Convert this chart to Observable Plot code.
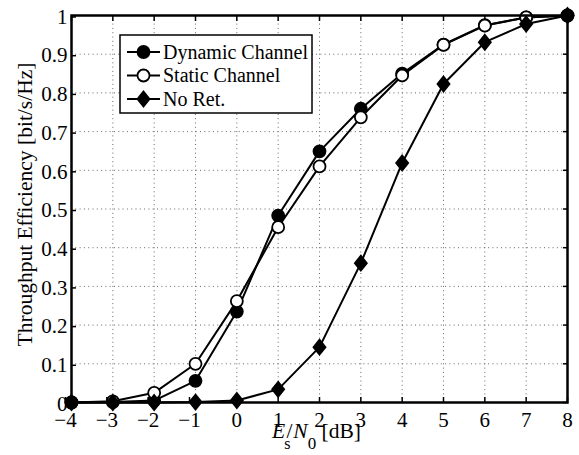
<!DOCTYPE html>
<html>
<head>
<meta charset="utf-8">
<script src="https://cdn.jsdelivr.net/npm/d3@7"></script>
<script src="https://cdn.jsdelivr.net/npm/@observablehq/plot@0.6"></script>
<style>
  body { margin: 0; background: #fff; }
  #chart svg { display: block; }
  #chart svg text { font-family: 'Liberation Serif', 'Times New Roman', serif; }
</style>
</head>
<body>
<div id="chart"></div>
<script>
// Throughput efficiency versus Es/N0 for three retransmission schemes
const snr = [-4, -3, -2, -1, 0, 1, 2, 3, 4, 5, 6, 7, 8];
const dynamicChannel = [0, 0.001, 0.005, 0.056, 0.235, 0.483, 0.649, 0.759, 0.85, 0.925, 0.975, 0.995, 1.0];
const staticChannel = [0, 0.003, 0.025, 0.1, 0.262, 0.453, 0.61, 0.737, 0.845, 0.924, 0.974, 0.995, 1.0];
const noRetransmission = [0, 0, 0, 0.001, 0.005, 0.034, 0.143, 0.36, 0.619, 0.823, 0.931, 0.978, 1.0];

const seriesNames = ["Dynamic Channel", "Static Channel", "No Ret."];
const xTicks = [-4, -3, -2, -1, 0, 1, 2, 3, 4, 5, 6, 7, 8];
const xTickLabels = ["\u22124", "\u22123", "\u22122", "\u22121", "0", "1", "2", "3", "4", "5", "6", "7", "8"];
const yTicks = [0, 0.1, 0.2, 0.3, 0.4, 0.5, 0.6, 0.7, 0.8, 0.9, 1];
const yTickLabels = ["0", "0.1", "0.2", "0.3", "0.4", "0.5", "0.6", "0.7", "0.8", "0.9", "1"];

const W = 579, H = 455;
const M = {top: 15, right: 12, bottom: 53, left: 71};
const FONT = "'Liberation Serif', 'Times New Roman', serif";
const FS_TICK = 21;
const FS_LABEL = 21.5;
const FS_LEGEND = 20;

// Rhombus marker, a little taller than wide
const rhombus = {
  draw(ctx, size) {
    const r = Math.sqrt(size / Math.PI);
    const w = r * 1.0, h = r * 1.25;
    ctx.moveTo(0, -h); ctx.lineTo(w, 0); ctx.lineTo(0, h); ctx.lineTo(-w, 0); ctx.closePath();
  }
};

const series = [
  {name: seriesNames[0], values: dynamicChannel, symbol: "circle", fill: "black"},
  {name: seriesNames[1], values: staticChannel, symbol: "circle", fill: "white"},
  {name: seriesNames[2], values: noRetransmission, symbol: rhombus, fill: "black"}
];

const gridStyle = {stroke: "#666", strokeOpacity: 1, strokeWidth: 1, strokeDasharray: "1,3.3"};

const seriesMarks = series.flatMap(s => {
  const data = snr.map((x, i) => ({x, y: s.values[i]}));
  return [
    Plot.line(data, {x: "x", y: "y", stroke: "black", strokeWidth: 2}),
    Plot.dot(data, {x: "x", y: "y", r: 6, symbol: s.symbol, fill: s.fill, stroke: "black", strokeWidth: 1.8})
  ];
});

// Negative tick labels carry a wide minus sign and sit a little to the left
const xLabelOf = d => xTickLabels[xTicks.indexOf(d)];
const negTicks = xTicks.filter(d => d < 0);
const posTicks = xTicks.filter(d => d >= 0);

const chart = Plot.plot({
  width: W,
  height: H,
  marginTop: M.top,
  marginRight: M.right,
  marginBottom: M.bottom,
  marginLeft: M.left,
  style: {fontFamily: FONT, fontSize: FS_TICK + "px", background: "white", color: "black"},
  x: {domain: [-4, 8], label: null},
  y: {domain: [0, 1], label: null},
  marks: [
    Plot.gridX(xTicks, gridStyle),
    Plot.gridY(yTicks, gridStyle),
    Plot.axisX(negTicks, {anchor: "bottom", tickSize: -5, tickPadding: 15, strokeWidth: 1.5, dx: -6,
      tickFormat: xLabelOf, fontSize: FS_TICK, label: null}),
    Plot.axisX(posTicks, {anchor: "bottom", tickSize: -5, tickPadding: 15, strokeWidth: 1.5,
      tickFormat: xLabelOf, fontSize: FS_TICK, label: null}),
    Plot.axisX(xTicks, {anchor: "top", tickSize: -5, strokeWidth: 1.5, tickFormat: () => "", label: null}),
    Plot.axisY(yTicks, {anchor: "left", tickSize: -5, tickPadding: 9, strokeWidth: 1.5, dy: 1.5,
      tickFormat: (d, i) => yTickLabels[i], fontSize: FS_TICK, label: null}),
    Plot.axisY(yTicks, {anchor: "right", tickSize: -5, strokeWidth: 1.5, tickFormat: () => "", label: null}),
    ...seriesMarks,
    Plot.frame({stroke: "black", strokeWidth: 2.5})
  ]
});

document.getElementById("chart").appendChild(chart);

// Axis titles and legend drawn into the same SVG
const svg = d3.select(chart);
const xs = chart.scale("x"), ys = chart.scale("y");
const cx = (xs.range[0] + xs.range[1]) / 2;
const cy = (ys.range[0] + ys.range[1]) / 2;

const xTitle = svg.append("text")
  .attr("x", cx - 47).attr("y", 438)
  .style("text-anchor", "start")
  .style("font-family", FONT).style("font-size", FS_LABEL + "px").attr("fill", "black");
xTitle.append("tspan").style("font-style", "italic").text("E");
xTitle.append("tspan").style("font-size", "16px").attr("dy", 11).attr("dx", -1).text("s");
xTitle.append("tspan").attr("dy", -11).attr("dx", -4).text("/");
xTitle.append("tspan").style("font-style", "italic").attr("dx", 1).text("N");
xTitle.append("tspan").style("font-size", "17px").attr("dy", 11).text("0");
xTitle.append("tspan").attr("dy", -11).text(" [dB]");

svg.append("text")
  .attr("transform", `translate(31.5,${cy - 4}) rotate(-90)`)
  .style("text-anchor", "middle")
  .style("font-family", FONT).style("font-size", FS_LABEL + "px").attr("fill", "black")
  .text("Throughput Efficiency [bit/s/Hz]");

// Legend
const lg = svg.append("g");
lg.append("rect")
  .attr("x", 120).attr("y", 35).attr("width", 192).attr("height", 78)
  .attr("fill", "white").attr("stroke", "black").attr("stroke-width", 1.5);
series.forEach((s, i) => {
  const y = 52 + i * 23.5;
  lg.append("line").attr("x1", 127).attr("x2", 160).attr("y1", y).attr("y2", y)
    .attr("stroke", "black").attr("stroke-width", 2);
  const sym = typeof s.symbol === "string" ? d3.symbolCircle : s.symbol;
  lg.append("path")
    .attr("d", d3.symbol(sym, 36 * Math.PI)())
    .attr("transform", `translate(143.5,${y})`)
    .attr("fill", s.fill).attr("stroke", "black").attr("stroke-width", 1.8);
  lg.append("text").attr("x", 163).attr("y", y).attr("dy", "0.34em")
    .style("text-anchor", "start")
    .style("font-family", FONT).style("font-size", FS_LEGEND + "px").attr("fill", "black")
    .text(s.name);
});
</script>
</body>
</html>
